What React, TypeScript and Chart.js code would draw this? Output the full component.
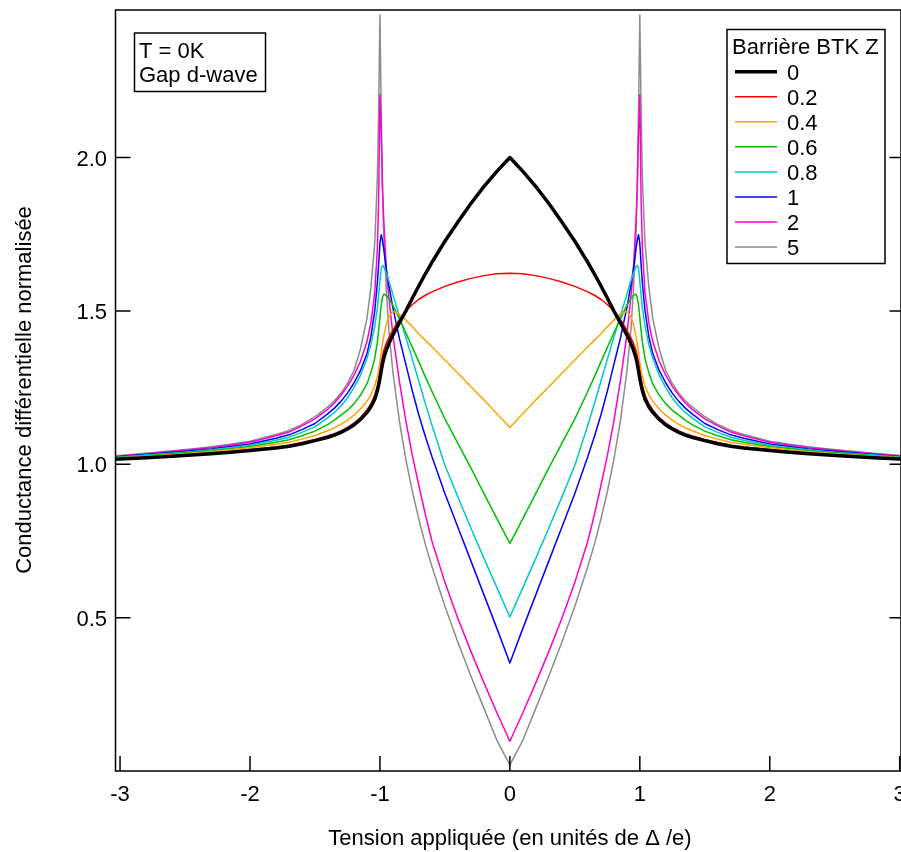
import React, { useEffect, useRef } from "react";
import { Chart, registerables } from "chart.js";

Chart.register(...registerables);

// Bias voltage samples (units of Δ/e), x >= 0 half; curves are symmetric in the figure
const VOLTAGE_HALF = [0, 0.1, 0.2, 0.3, 0.4, 0.5, 0.6, 0.65, 0.7, 0.75, 0.8, 0.85, 0.9, 0.93, 0.95, 0.97, 0.98, 0.99, 1.0, 1.01, 1.02, 1.04, 1.07, 1.1, 1.15, 1.2, 1.25, 1.3, 1.35, 1.4, 1.5, 1.6, 1.7, 1.8, 2.0, 2.15, 2.3, 2.45, 2.6, 2.8, 3.0, 3.04];

// Normalized differential conductance
const G_Z0 = [2.0, 1.955, 1.905, 1.85, 1.79, 1.727, 1.658, 1.621, 1.582, 1.542, 1.5, 1.462, 1.422, 1.395, 1.374, 1.347, 1.328, 1.305, 1.28, 1.258, 1.24, 1.212, 1.187, 1.169, 1.146, 1.128, 1.115, 1.104, 1.095, 1.088, 1.077, 1.067, 1.059, 1.053, 1.045, 1.039, 1.034, 1.03, 1.026, 1.021, 1.017, 1.016];
const G_Z02 = [1.623, 1.621, 1.615, 1.606, 1.594, 1.58, 1.562, 1.551, 1.538, 1.521, 1.5, 1.472, 1.438, 1.414, 1.396, 1.372, 1.353, 1.33, 1.302, 1.276, 1.256, 1.225, 1.197, 1.177, 1.152, 1.134, 1.12, 1.109, 1.1, 1.093, 1.081, 1.071, 1.062, 1.056, 1.048, 1.042, 1.036, 1.031, 1.027, 1.022, 1.018, 1.017];
const G_Z04 = [1.12, 1.165, 1.21, 1.253, 1.297, 1.34, 1.383, 1.404, 1.425, 1.448, 1.47, 1.49, 1.498, 1.482, 1.458, 1.418, 1.395, 1.365, 1.332, 1.306, 1.285, 1.255, 1.226, 1.205, 1.18, 1.16, 1.144, 1.13, 1.119, 1.11, 1.094, 1.082, 1.072, 1.065, 1.054, 1.047, 1.041, 1.036, 1.031, 1.026, 1.021, 1.02];
const G_Z06 = [0.742, 0.823, 0.905, 0.988, 1.068, 1.148, 1.238, 1.285, 1.333, 1.381, 1.428, 1.474, 1.518, 1.54, 1.55, 1.555, 1.545, 1.52, 1.478, 1.435, 1.398, 1.345, 1.298, 1.262, 1.225, 1.197, 1.176, 1.16, 1.144, 1.13, 1.108, 1.093, 1.08, 1.072, 1.058, 1.051, 1.044, 1.039, 1.034, 1.028, 1.022, 1.021];
const G_Z08 = [0.502, 0.598, 0.694, 0.792, 0.893, 0.997, 1.128, 1.197, 1.27, 1.342, 1.413, 1.483, 1.553, 1.597, 1.622, 1.643, 1.648, 1.638, 1.598, 1.55, 1.508, 1.45, 1.39, 1.345, 1.29, 1.25, 1.216, 1.19, 1.169, 1.152, 1.122, 1.104, 1.088, 1.078, 1.062, 1.054, 1.047, 1.041, 1.036, 1.03, 1.024, 1.023];
const G_Z1 = [0.352, 0.465, 0.575, 0.685, 0.795, 0.905, 1.025, 1.09, 1.16, 1.238, 1.325, 1.41, 1.51, 1.58, 1.635, 1.7, 1.73, 1.748, 1.72, 1.65, 1.59, 1.5, 1.415, 1.36, 1.305, 1.265, 1.232, 1.205, 1.183, 1.165, 1.133, 1.113, 1.096, 1.085, 1.066, 1.058, 1.05, 1.044, 1.039, 1.032, 1.025, 1.024];
const G_Z2 = [0.097, 0.19, 0.288, 0.39, 0.497, 0.615, 0.75, 0.835, 0.93, 1.028, 1.14, 1.27, 1.42, 1.54, 1.63, 1.79, 1.9, 2.08, 2.205, 1.86, 1.7, 1.56, 1.46, 1.4, 1.335, 1.29, 1.254, 1.225, 1.2, 1.18, 1.148, 1.125, 1.105, 1.093, 1.072, 1.063, 1.054, 1.048, 1.042, 1.034, 1.027, 1.026];
const G_Z5 = [0.02, 0.1, 0.205, 0.31, 0.42, 0.537, 0.667, 0.738, 0.82, 0.91, 1.015, 1.14, 1.3, 1.43, 1.56, 1.74, 1.88, 2.15, 2.465, 2.15, 1.93, 1.72, 1.575, 1.475, 1.375, 1.305, 1.264, 1.232, 1.207, 1.188, 1.155, 1.13, 1.11, 1.097, 1.075, 1.065, 1.057, 1.05, 1.044, 1.036, 1.029, 1.028];

const SERIES_LABELS = ["0", "0.2", "0.4", "0.6", "0.8", "1", "2", "5"];
const SERIES_VALUES = [G_Z0, G_Z02, G_Z04, G_Z06, G_Z08, G_Z1, G_Z2, G_Z5];
const SERIES_COLORS = ["#000000", "#ff0000", "#ffa500", "#00c000", "#00c8c8", "#0000ff", "#ff00cc", "#8c8c8c"];
const SERIES_WIDTHS = [3.5, 1.5, 1.5, 1.5, 1.5, 1.5, 1.5, 1.5];

const X_TICKS = [-3, -2, -1, 0, 1, 2, 3];
const X_TICK_LABELS = ["-3", "-2", "-1", "0", "1", "2", "3"];
const Y_TICKS = [0.5, 1.0, 1.5, 2.0];
const Y_TICK_LABELS = ["0.5", "1.0", "1.5", "2.0"];

const X_TITLE = "Tension appliquée (en unités de Δ /e)";
const Y_TITLE = "Conductance différentielle normalisée";
const LEGEND_TITLE = "Barrière BTK Z";
const NOTE_LINES = ["T = 0K", "Gap d-wave"];

const FONT = "22px 'Liberation Sans', Arial, sans-serif";

function buildPoints(values: number[]) {
  const pts: { x: number; y: number }[] = [];
  for (let i = VOLTAGE_HALF.length - 1; i >= 1; i--) {
    pts.push({ x: -VOLTAGE_HALF[i], y: values[i] });
  }
  for (let i = 0; i < VOLTAGE_HALF.length; i++) {
    pts.push({ x: VOLTAGE_HALF[i], y: values[i] });
  }
  return pts;
}

const framePlugin = {
  id: "framePlugin",
  afterDraw(chart: any) {
    const { ctx, chartArea: a, scales } = chart;
    const xs = scales.x;
    const ys = scales.y;
    ctx.save();
    ctx.strokeStyle = "#000";
    ctx.lineWidth = 1.5;
    ctx.beginPath();
    ctx.rect(a.left, a.top, a.right - a.left, a.bottom - a.top);
    ctx.stroke();

    ctx.beginPath();
    X_TICKS.forEach((v) => {
      const px = xs.getPixelForValue(v);
      ctx.moveTo(px, a.bottom);
      ctx.lineTo(px, a.bottom - 15);
    });
    Y_TICKS.forEach((v) => {
      const py = ys.getPixelForValue(v);
      ctx.moveTo(a.left, py);
      ctx.lineTo(a.left + 15, py);
      ctx.moveTo(a.right, py);
      ctx.lineTo(a.right - 11.5, py);
    });
    ctx.stroke();

    ctx.font = FONT;
    ctx.fillStyle = "#000";
    ctx.textAlign = "center";
    ctx.textBaseline = "alphabetic";
    X_TICKS.forEach((v, i) => {
      ctx.fillText(X_TICK_LABELS[i], xs.getPixelForValue(v), a.bottom + 30);
    });
    ctx.textAlign = "right";
    Y_TICKS.forEach((v, i) => {
      ctx.fillText(Y_TICK_LABELS[i], a.left - 8.5, ys.getPixelForValue(v) + 8);
    });

    // axis titles
    ctx.textAlign = "center";
    ctx.fillText(X_TITLE, 510, 845);
    ctx.save();
    ctx.translate(31, 390);
    ctx.rotate(-Math.PI / 2);
    ctx.fillText(Y_TITLE, 0, 0);
    ctx.restore();

    // annotation box
    ctx.lineWidth = 1.5;
    ctx.fillStyle = "#fff";
    ctx.fillRect(134.5, 33, 131, 58.5);
    ctx.strokeRect(134.5, 33, 131, 58.5);
    ctx.fillStyle = "#000";
    ctx.textAlign = "left";
    ctx.fillText(NOTE_LINES[0], 139, 57.5);
    ctx.fillText(NOTE_LINES[1], 139, 82);

    // legend box
    const lx = 727, ly = 29.5, lw = 158, lh = 234;
    ctx.fillStyle = "#fff";
    ctx.fillRect(lx, ly, lw, lh);
    ctx.strokeStyle = "#000";
    ctx.lineWidth = 1.5;
    ctx.strokeRect(lx, ly, lw, lh);
    ctx.fillStyle = "#000";
    ctx.fillText(LEGEND_TITLE, 732, 53.5);
    chart.data.datasets.forEach((ds: any, i: number) => {
      const yLine = 71.7 + 25.05 * i;
      ctx.beginPath();
      ctx.strokeStyle = ds.borderColor;
      ctx.lineWidth = ds.borderWidth;
      ctx.moveTo(735, yLine);
      ctx.lineTo(777, yLine);
      ctx.stroke();
      ctx.fillStyle = "#000";
      ctx.fillText(ds.label, 787, yLine + 7.8);
    });
    ctx.restore();
  },
};

export default function App() {
  const canvasRef = useRef<HTMLCanvasElement | null>(null);

  useEffect(() => {
    if (!canvasRef.current) return;
    const datasets = SERIES_VALUES.map((vals, i) => ({
      label: SERIES_LABELS[i],
      data: buildPoints(vals),
      borderColor: SERIES_COLORS[i],
      backgroundColor: SERIES_COLORS[i],
      borderWidth: SERIES_WIDTHS[i],
      borderJoinStyle: "round" as const,
      pointRadius: 0,
      fill: false,
      tension: 0,
    }));
    const chart = new Chart(canvasRef.current, {
      type: "line",
      data: { datasets },
      options: {
        responsive: false,
        animation: false,
        devicePixelRatio: 1,
        events: [],
        layout: { padding: { left: 115.5, right: 0, top: 10, bottom: 81 } },
        scales: {
          x: { type: "linear", min: -3.035, max: 3.01, display: false },
          y: { type: "linear", min: 0, max: 2.481, display: false },
        },
        plugins: { legend: { display: false }, tooltip: { enabled: false } },
      },
      plugins: [framePlugin],
    });
    return () => chart.destroy();
  }, []);

  return (
    <canvas
      ref={canvasRef}
      width={901}
      height={852}
      style={{ position: "absolute", left: 0, top: 0, width: 901, height: 852 }}
    />
  );
}
